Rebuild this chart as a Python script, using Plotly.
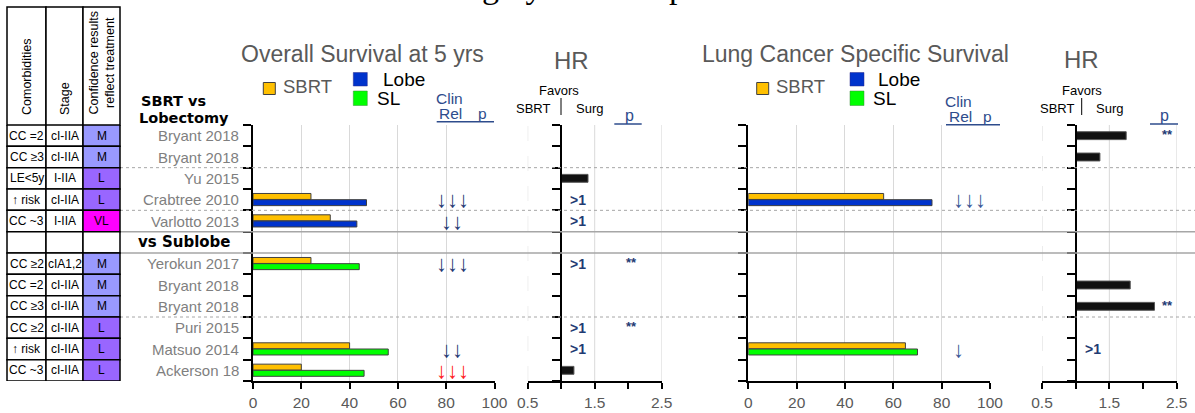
import plotly.graph_objects as go

# ---------------- data ----------------
studies = ["Bryant 2018", "Bryant 2018", "Yu 2015", "Crabtree 2010", "Varlotto 2013", "",
           "Yerokun 2017", "Bryant 2018", "Bryant 2018", "Puri 2015", "Matsuo 2014", "Ackerson 18"]
comorbidities = ["CC =2", "CC ≥3", "LE<5y", "↑ risk", "CC ~3", "",
                 "CC ≥2", "CC =2", "CC ≥3", "CC ≥2", "↑ risk", "CC ~3"]
stages = ["cI-IIA", "cI-IIA", "I-IIA", "cI-IIA", "I-IIA", "",
          "cIA1,2", "cI-IIA", "cI-IIA", "cI-IIA", "cI-IIA", "cI-IIA"]
confidence = ["M", "M", "L", "L", "VL", "", "M", "M", "M", "L", "L", "L"]
surgery_type = ["Lobe", "Lobe", "Lobe", "Lobe", "Lobe", "", "SL", "SL", "SL", "SL", "SL", "SL"]

os_sbrt = [None, None, None, 24, 32, None, 24, None, None, None, 40, 20]
os_surgery = [None, None, None, 47, 43, None, 44, None, None, None, 56, 46]
os_clin_rel = ["", "", "", "↓↓↓", "↓↓", "", "↓↓↓", "", "", "", "↓↓", "↓↓↓"]
os_clin_red = [False] * 11 + [True]
hr_os = [None, None, 1.40, None, None, None, None, None, None, None, None, 1.19]
hr_os_note = ["", "", "", ">1", ">1", "", ">1", "", "", ">1", ">1", ""]
hr_os_p = ["", "", "", "", "", "", "**", "", "", "**", "", ""]

lc_sbrt = [None, None, None, 56, None, None, None, None, None, None, 65, None]
lc_surgery = [None, None, None, 76, None, None, None, None, None, None, 70, None]
lc_clin_rel = ["", "", "", "↓↓↓", "", "", "", "", "", "", "↓", ""]
hr_lc = [1.75, 1.36, None, None, None, None, None, 1.81, 2.17, None, None, None]
hr_lc_note = ["", "", "", "", "", "", "", "", "", "", ">1", ""]
hr_lc_p = ["**", "", "", "", "", "", "", "", "**", "", "", ""]

pct_ticks = [0, 20, 40, 60, 80, 100]
hr_ticks = [0.5, 1.0, 1.5, 2.0, 2.5]
hr_ticktext = ["0.5", "", "1.5", "", "2.5"]

# ---------------- styling ----------------
W, H = 1195, 413
def px(x): return x / W
def py(y): return 1 - y / H

ORANGE = "#FFC000"; BLUE = "#0033CC"; GREEN = "#00FF00"
NAVY = "#1F3B73"; LINKNAVY = "#2E4C8C"; GRAYTXT = "#595959"; LABELGRAY = "#7F7F7F"
GRID = "#D9D9D9"; SEP = "#A6A6A6"
CONF_COL = {"M": "#9999FF", "L": "#9966FF", "VL": "#FF00FF", "": "white"}
ARIAL = "Liberation Sans, Arial, sans-serif"

n = len(studies)
rows = list(range(n))
ydom = [py(381), py(125)]
yrange = [n - 0.5, -0.5]
bounds = [i - 0.5 for i in range(n + 1)]

dom_os = [px(253), px(494.5)]
dom_hr1 = [px(527.7), px(661.7)]
dom_lc = [px(748.3), px(990)]
dom_hr2 = [px(1042), px(1176.7)]

def hr_pos(dom, v=1.0, lo=0.5, hi=2.5):
    return dom[0] + (v - lo) / (hi - lo) * (dom[1] - dom[0])

fig = go.Figure()

BW = 0.28
def surg_split(vals, kind):
    return [v if t == kind else None for v, t in zip(vals, surgery_type)]

bar_line = dict(color="#404040", width=1)
for xa, ya, sb, su in [("x", "y", os_sbrt, os_surgery), ("x3", "y3", lc_sbrt, lc_surgery)]:
    fig.add_trace(go.Bar(x=sb, y=rows, orientation="h", xaxis=xa, yaxis=ya, width=BW, offset=-BW - 0.01,
                         marker=dict(color=ORANGE, line=bar_line), showlegend=False))
    fig.add_trace(go.Bar(x=surg_split(su, "Lobe"), y=rows, orientation="h", xaxis=xa, yaxis=ya, width=BW, offset=0,
                         marker=dict(color=BLUE, line=bar_line), showlegend=False))
    fig.add_trace(go.Bar(x=surg_split(su, "SL"), y=rows, orientation="h", xaxis=xa, yaxis=ya, width=BW, offset=0,
                         marker=dict(color=GREEN, line=bar_line), showlegend=False))

for xa, ya, vals in [("x2", "y2", hr_os), ("x4", "y4", hr_lc)]:
    fig.add_trace(go.Bar(x=[v - 1 if v is not None else None for v in vals], base=1, y=rows, orientation="h",
                         xaxis=xa, yaxis=ya, width=0.37, offset=-0.185,
                         marker=dict(color="#111111", line=dict(color="#555555", width=1)), showlegend=False))

ax_common = dict(showline=True, linecolor="black", linewidth=2, ticks="outside", ticklen=6, tickwidth=1.5,
                 tickcolor="black", zeroline=False, ticklabelstandoff=0,
                 tickfont=dict(family=ARIAL, size=15.5, color=GRAYTXT))
y_common = dict(domain=ydom, range=yrange, showline=True, linecolor="black", linewidth=2, ticks="outside",
                ticklen=8, tickwidth=1.5, tickcolor="black", tickvals=bounds, showticklabels=False,
                showgrid=False, zeroline=False)

fig.update_layout(
    width=W, height=H, margin=dict(l=0, r=0, t=0, b=0, pad=0, autoexpand=False),
    paper_bgcolor="white", plot_bgcolor="rgba(0,0,0,0)", barmode="overlay",
    xaxis=dict(domain=dom_os, range=[0, 100], anchor="y", tickvals=pct_ticks, showgrid=True,
               gridcolor=GRID, gridwidth=1, **ax_common),
    yaxis=dict(anchor="x", **y_common),
    xaxis2=dict(domain=dom_hr1, range=[0.5, 2.5], anchor="y2", tickvals=hr_ticks, ticktext=hr_ticktext,
                showgrid=False, **ax_common),
    yaxis2=dict(anchor="free", position=hr_pos(dom_hr1), **y_common),
    xaxis3=dict(domain=dom_lc, range=[0, 100], anchor="y3", tickvals=pct_ticks, showgrid=True,
                gridcolor=GRID, gridwidth=1, **ax_common),
    yaxis3=dict(anchor="x3", **y_common),
    xaxis4=dict(domain=dom_hr2, range=[0.5, 2.5], anchor="y4", tickvals=hr_ticks, ticktext=hr_ticktext,
                showgrid=False, **ax_common),
    yaxis4=dict(anchor="free", position=hr_pos(dom_hr2), **y_common),
)

shapes = []
ann = []

# HR grid lines
for xa, ya in [("x2", "y2"), ("x4", "y4")]:
    shapes.append(dict(type="line", xref=xa, yref=ya + " domain", x0=0.5, x1=0.5, y0=0, y1=1,
                       line=dict(color=GRID, width=1, dash="longdash"), layer="below"))
    for g in (1.5, 2.5):
        shapes.append(dict(type="line", xref=xa, yref=ya + " domain", x0=g, x1=g, y0=0, y1=1,
                           line=dict(color=GRID, width=1), layer="below"))

# row separators
for b in (1.5, 3.5, 8.5):
    shapes.append(dict(type="line", xref="paper", yref="y", x0=px(120), x1=1, y0=b, y1=b,
                       line=dict(color=SEP, width=1, dash="dot")))
for b in (4.5, 5.5):
    shapes.append(dict(type="line", xref="paper", yref="y", x0=px(120), x1=1, y0=b, y1=b,
                       line=dict(color=SEP, width=1.5)))

# ---------------- table ----------------
cols = [(7, 46), (46, 83), (83, 120)]
tline = dict(color="black", width=1.5)
for (c0, c1) in cols:
    shapes.append(dict(type="rect", xref="paper", yref="paper", x0=px(c0), x1=px(c1), y0=py(125), y1=py(7),
                       line=tline, fillcolor="white"))
for i in rows:
    vals = [comorbidities[i], stages[i], confidence[i]]
    for j, (c0, c1) in enumerate(cols):
        fill = CONF_COL[confidence[i]] if j == 2 else "white"
        shapes.append(dict(type="rect", xref="paper", yref="y", x0=px(c0), x1=px(c1), y0=i - 0.5, y1=i + 0.5,
                           line=tline, fillcolor=fill))
        if vals[j]:
            ann.append(dict(text=vals[j], xref="paper", yref="y", x=px((c0 + c1) / 2), y=i, showarrow=False,
                            xanchor="center", yanchor="middle",
                            font=dict(family=ARIAL, size=12, color="black")))

headers = [("Comorbidities", 27), ("Stage", 64.5), ("Confidence results<br>reflect treatment", 101.5)]
for t, xc in headers:
    ann.append(dict(text=t, xref="paper", yref="paper", x=px(xc), y=py(117), xanchor="center", yanchor="bottom",
                    textangle=-90, showarrow=False, font=dict(family=ARIAL, size=12.5, color="black")))

# study labels
for i, s in enumerate(studies):
    if s:
        ann.append(dict(text=s, xref="paper", yref="y", x=px(241), y=i, xanchor="right", yanchor="middle",
                        showarrow=False, font=dict(family=ARIAL, size=15, color=LABELGRAY)))
def txt(t, x, y, size, color, family=ARIAL, xanchor="center", yanchor="middle"):
    ann.append(dict(text=t, xref="paper", yref="paper", x=px(x), y=py(y), xanchor=xanchor, yanchor=yanchor,
                    showarrow=False, font=dict(family=family, size=size, color=color)))

txt("<b>SBRT vs</b>", 139, 101, 14.5, "black", family="DejaVu Sans", xanchor="left")
txt("<b>Lobectomy</b>", 137, 118, 14.5, "black", family="DejaVu Sans", xanchor="left")
ann.append(dict(text="<b>vs Sublobe</b>", xref="paper", yref="y", x=px(136), y=5, showarrow=False,
                xanchor="left", yanchor="middle", font=dict(family="DejaVu Sans", size=15, color="black")))

# ---------------- bar annotations ----------------
CLIN_X_OS, CLIN_X_LC, CLIN_X_LC1 = 82.5, 91.5, 87
for i in rows:
    if os_clin_rel[i]:
        ann.append(dict(text=os_clin_rel[i], xref="x", yref="y", x=CLIN_X_OS, y=i, showarrow=False,
                        xanchor="center", yanchor="middle",
                        font=dict(family=ARIAL, size=22, color="#FF2020" if os_clin_red[i] else NAVY)))
    if lc_clin_rel[i]:
        ann.append(dict(text=lc_clin_rel[i], xref="x3", yref="y3",
                        x=CLIN_X_LC if len(lc_clin_rel[i]) > 1 else CLIN_X_LC1, xanchor="center", yanchor="middle",
                        y=i, showarrow=False, font=dict(family=ARIAL, size=22, color="#3A5896")))
    for xa, ya, note, p, nx, pxv in [("x2", "y2", hr_os_note, hr_os_p, 1.25, 2.05),
                                     ("x4", "y4", hr_lc_note, hr_lc_p, 1.25, 2.36)]:
        if note[i]:
            ann.append(dict(text="<b>" + note[i] + "</b>", xref=xa, yref=ya, x=nx, y=i, showarrow=False,
                            xanchor="center", yanchor="middle", font=dict(family=ARIAL, size=14, color=NAVY)))
        if p[i]:
            ann.append(dict(text="<b>" + p[i] + "</b>", xref=xa, yref=ya, x=pxv, y=i - 0.05, showarrow=False,
                            xanchor="center", yanchor="middle", font=dict(family=ARIAL, size=13, color=NAVY)))

# ---------------- titles / legends ----------------
txt("Highly selected patients", 446, 7, 34, "black", family="Liberation Serif, Times New Roman, serif",
    xanchor="left", yanchor="bottom")
txt("Overall Survival at 5 yrs", 362.5, 54, 23, GRAYTXT)
txt("Lung Cancer Specific Survival", 855.5, 54, 23, GRAYTXT)
txt("HR", 571, 61, 24, GRAYTXT)
txt("HR", 1081.5, 60, 24, GRAYTXT)

for ox, sx, bx, lx, slx in [(263.3, 280.7, 353.3, 381, 375), (756.7, 774, 850, 876, 871)]:
    shapes.append(dict(type="rect", xref="paper", yref="paper", x0=px(ox), x1=px(ox + 12), y0=py(94.5), y1=py(82.5),
                       fillcolor=ORANGE, line=dict(color="#404040", width=1)))
    txt("SBRT", sx, 87, 18.5, GRAYTXT, xanchor="left")
    shapes.append(dict(type="rect", xref="paper", yref="paper", x0=px(bx), x1=px(bx + 14), y0=py(86), y1=py(72.5),
                       fillcolor=BLUE, line=dict(color="#2a2a8a", width=0.5)))
    shapes.append(dict(type="rect", xref="paper", yref="paper", x0=px(bx), x1=px(bx + 14), y0=py(105.5), y1=py(91),
                       fillcolor=GREEN, line=dict(color="#3a8a3a", width=0.5)))
    txt("Lobe", lx, 79.5, 19, "black", xanchor="left")
    txt("SL", slx, 98.5, 19, "black", xanchor="left")

# Clin Rel p headers
for cx, rx, ppx, uy, u0, u1 in [(449, 450.5, 482, 0, 436.7, 494), (958.5, 960.5, 987, 3, 946, 1000)]:
    txt("Clin", cx, 98 + uy, 15.5, LINKNAVY)
    txt("Rel", rx, 113.5 + uy, 15.5, LINKNAVY)
    txt("p", ppx, 113.5 + uy, 15.5, LINKNAVY)
    shapes.append(dict(type="line", xref="paper", yref="paper", x0=px(u0), x1=px(u1), y0=py(121.7 + uy),
                       y1=py(121.7 + uy), line=dict(color=LINKNAVY, width=1.5)))
for pc, u0, u1 in [(629, 614.3, 641.7), (1164, 1150, 1178)]:
    txt("p", pc, 115, 16, LINKNAVY)
    shapes.append(dict(type="line", xref="paper", yref="paper", x0=px(u0), x1=px(u1), y0=py(124), y1=py(124),
                       line=dict(color=LINKNAVY, width=1.5)))

# Favors
for fx, sbx, lnx, sgx in [(559, 533, 561, 589.5), (1081.7, 1057, 1081.7, 1109.7)]:
    txt("Favors", fx, 91, 13, "black")
    txt("SBRT", sbx, 108.5, 13, "black")
    txt("Surg", sgx, 108.5, 13, "black")
    shapes.append(dict(type="line", xref="paper", yref="paper", x0=px(lnx), x1=px(lnx), y0=py(98), y1=py(115),
                       line=dict(color="black", width=1)))

fig.update_layout(shapes=shapes, annotations=ann)
fig.write_html("out.html", config={"displayModeBar": False},
               post_script="document.body.style.margin='0';document.body.style.overflow='hidden';")
